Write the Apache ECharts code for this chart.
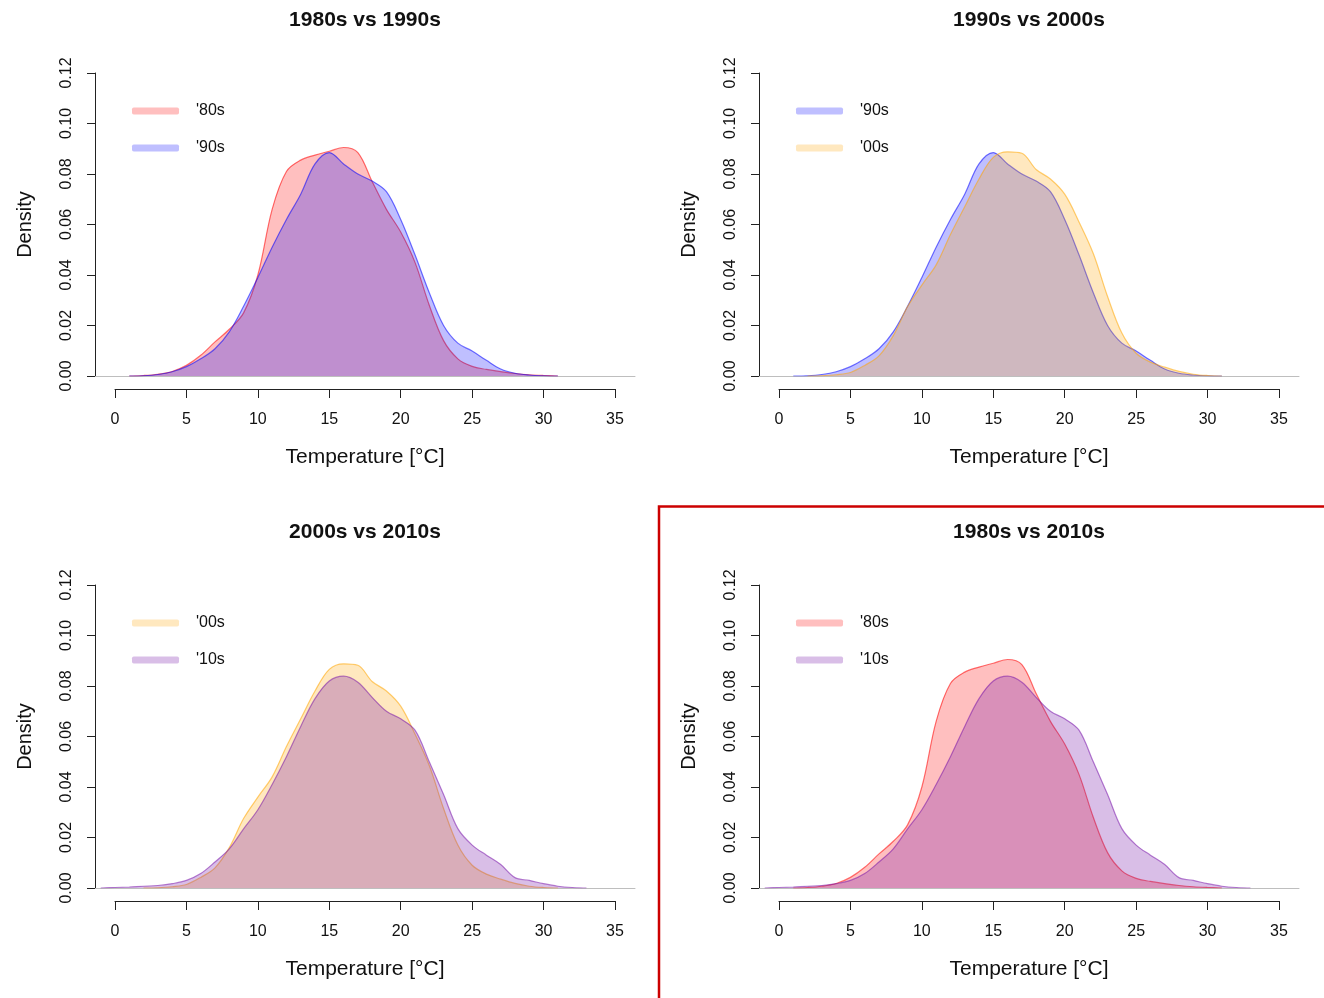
<!DOCTYPE html>
<html>
<head>
<meta charset="utf-8">
<script src="https://cdn.jsdelivr.net/npm/echarts@6/dist/echarts.min.js"></script>
<style>
  html, body { margin: 0; padding: 0; background: #fff; }
  #chart { width: 1324px; height: 998px; }
</style>
</head>
<body>
<div id="chart"></div>
<script>
// temperature grid (°C) shared by all density curves
const temps = [-1, 0, 1, 2, 3, 4, 5, 6, 7, 8, 9, 10, 11, 12, 13, 14, 15, 16,
  17, 18, 19, 20, 21, 22, 23, 24, 25, 26, 27, 28, 29, 30, 31, 32, 33];

// densities
const dens80 = [0, 0, 0, 0.0002, 0.0007, 0.0018, 0.0042, 0.0082, 0.0135, 0.0185, 0.025, 0.040,
  0.066, 0.081, 0.0855, 0.0875, 0.089, 0.0905, 0.0885, 0.077, 0.066, 0.057, 0.045, 0.028, 0.014,
  0.0068, 0.0038, 0.0026, 0.0017, 0.001, 0.0005, 0.0002, 0, 0, 0];
const dens90 = [0, 0, 0, 0.0001, 0.0006, 0.0017, 0.0037, 0.0068, 0.0108, 0.0175, 0.0276, 0.039,
  0.051, 0.062, 0.072, 0.084, 0.0885, 0.084, 0.080, 0.0772, 0.073, 0.062, 0.048, 0.033, 0.020,
  0.013, 0.0099, 0.0062, 0.0028, 0.0011, 0.0004, 0.0001, 0, 0, 0];
const dens00 = [0, 0, 0, 0, 0.0001, 0.0005, 0.0014, 0.0042, 0.008, 0.016, 0.0275, 0.036,
  0.044, 0.056, 0.067, 0.078, 0.0866, 0.0888, 0.0882, 0.0818, 0.078, 0.072, 0.061, 0.0485, 0.0315,
  0.017, 0.009, 0.0055, 0.0035, 0.0018, 0.0007, 0.0002, 0, 0, 0];
const dens10 = [0, 0.0002, 0.0004, 0.0007, 0.001, 0.0017, 0.003, 0.0057, 0.0103, 0.0155, 0.0234, 0.031,
  0.041, 0.052, 0.064, 0.075, 0.082, 0.0839, 0.0815, 0.0755, 0.070, 0.067, 0.0625, 0.050, 0.037,
  0.0235, 0.017, 0.013, 0.0093, 0.0041, 0.003, 0.0017, 0.0007, 0.0002, 0];

const panelTitles = ['1980s vs 1990s', '1990s vs 2000s', '2000s vs 2010s', '1980s vs 2010s'];
const panelPairs = [["'80s", "'90s"], ["'90s", "'00s"], ["'00s", "'10s"], ["'80s", "'10s"]];

const decades = {
  "'80s": { data: dens80, rgb: '255,0,0', alpha: 0.25 },
  "'90s": { data: dens90, rgb: '0,0,255', alpha: 0.25 },
  "'00s": { data: dens00, rgb: '255,165,0', alpha: 0.25 },
  "'10s": { data: dens10, rgb: '120,20,170', alpha: 0.28 }
};

const font = "'Liberation Sans', Arial, sans-serif";
const offsets = [[0, 0], [664, 0], [0, 512], [664, 512]];

// keep the curve where it is above zero (plus one zero point at each end)
function curve(vals) {
  const pts = [];
  temps.forEach(function (t, i) {
    const prev = i > 0 ? vals[i - 1] : 0;
    const next = i < vals.length - 1 ? vals[i + 1] : 0;
    if (vals[i] > 0 || prev > 0 || next > 0) pts.push([t, vals[i]]);
  });
  return pts;
}

const grid = [], xAxis = [], yAxis = [], series = [], legend = [], title = [];

offsets.forEach(function (o, p) {
  const dx = o[0], dy = o[1];
  // plotting region
  grid.push({ left: 95 + dx, top: 73 + dy, width: 540, height: 303 });
  // detached x axis (R style)
  grid.push({ left: 115 + dx, top: 388 + dy, width: 500, height: 1 });

  xAxis.push({
    gridIndex: 2 * p, type: 'value', min: -1.4, max: 36.4,
    axisLine: { show: true, onZero: false, lineStyle: { color: '#bebebe', width: 1 } },
    axisTick: { show: false }, axisLabel: { show: false }, splitLine: { show: false }
  });
  xAxis.push({
    gridIndex: 2 * p + 1, type: 'value', min: 0, max: 35, interval: 5, position: 'bottom',
    axisLine: { show: true, onZero: false, lineStyle: { color: '#222', width: 1 } },
    axisTick: { show: true, length: 9, lineStyle: { color: '#222' } },
    axisLabel: { fontSize: 16, margin: 23, color: '#111', fontFamily: font },
    splitLine: { show: false },
    name: 'Temperature [°C]', nameLocation: 'middle', nameGap: 58,
    nameTextStyle: { fontSize: 21, color: '#111', fontFamily: font }
  });
  yAxis.push({
    gridIndex: 2 * p, type: 'value', min: 0, max: 0.12, interval: 0.02,
    axisLine: { show: true, onZero: false, lineStyle: { color: '#222', width: 1 } },
    axisTick: { show: true, length: 8, lineStyle: { color: '#222' } },
    axisLabel: {
      fontSize: 16, rotate: 90, margin: 20, color: '#111', fontFamily: font,
      formatter: function (v) { return v.toFixed(2); }
    },
    splitLine: { show: false },
    name: 'Density', nameLocation: 'middle', nameRotate: 90, nameGap: 60,
    nameTextStyle: { fontSize: 20, color: '#111', fontFamily: font }
  });
  yAxis.push({ gridIndex: 2 * p + 1, type: 'value', show: false });

  title.push({
    text: panelTitles[p], left: 365 + dx, top: 10 + dy, textAlign: 'center', padding: 0,
    textStyle: { fontSize: 21, fontWeight: 'bold', color: '#111', fontFamily: font }
  });

  const legendData = [];
  panelPairs[p].forEach(function (name, k) {
    const d = decades[name];
    series.push({
      name: name, type: 'line', xAxisIndex: 2 * p, yAxisIndex: 2 * p,
      data: curve(d.data),
      smooth: 0.35, symbol: 'none', silent: true, z: 2 + k,
      itemStyle: { color: 'rgba(' + d.rgb + ',' + d.alpha + ')' },
      lineStyle: { color: 'rgba(' + d.rgb + ',0.55)', width: 1.2 },
      areaStyle: { color: 'rgba(' + d.rgb + ',' + d.alpha + ')', opacity: 1 }
    });
    legendData.push({ name: name, itemStyle: { color: 'rgba(' + d.rgb + ',' + d.alpha + ')', borderWidth: 0 } });
  });

  legend.push({
    data: legendData, left: 132 + dx, top: 103 + dy, orient: 'vertical', padding: 0,
    icon: 'roundRect', itemWidth: 47, itemHeight: 7, itemGap: 21, selectedMode: false,
    textStyle: { fontSize: 16, color: '#111', fontFamily: font, padding: [0, 0, 0, 12] }
  });
});

const chart = echarts.init(document.getElementById('chart'));
chart.setOption({
  animation: false,
  backgroundColor: '#fff',
  title: title,
  legend: legend,
  grid: grid,
  xAxis: xAxis,
  yAxis: yAxis,
  series: series,
  graphic: [{
    type: 'rect', silent: true,
    shape: { x: 659, y: 506.5, width: 700, height: 520 },
    style: { fill: 'none', stroke: '#cc0000', lineWidth: 2.5 }
  }]
});
</script>
</body>
</html>
